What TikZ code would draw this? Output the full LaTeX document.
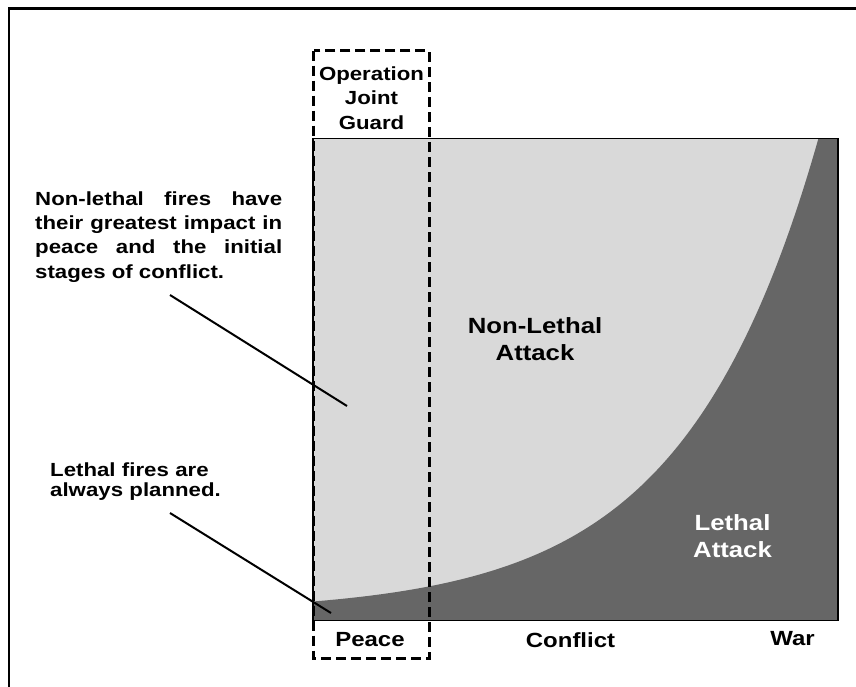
\documentclass[tikz,border=0pt]{standalone}
\usepackage{fontspec}
\setmainfont{Liberation Sans}[FakeStretch=1.17]
\definecolor{lightg}{HTML}{D9D9D9}
\definecolor{darkg}{HTML}{666666}
\begin{document}
\begin{tikzpicture}[x=1pt,y=-1pt,
  lab/.style={inner sep=0pt, font=\bfseries\fontsize{22}{27.4}\selectfont, text width=150pt, align=center, anchor=base},
  note/.style={inner sep=0pt, anchor=base west},
  axislab/.style={inner sep=0pt, font=\bfseries\fontsize{20.5}{25}\selectfont, anchor=base},
  pointer/.style={line width=2pt},
  guard/.style={line width=3pt, dash pattern=on 10pt off 5pt},
  frameline/.style={line width=2.6pt}]
\useasboundingbox (0,0) rectangle (856,687);
\fill[white] (0,0) rectangle (856,687);
% outer frame (cut by the page at right and bottom)
\draw[frameline] (9,687) -- (9,8.5) -- (856,8.5);
% chart
\coordinate (cTL) at (313,138.3);
\coordinate (cBR) at (838,620.5);
\fill[lightg] (cTL) rectangle (cBR);
\fill[darkg] (313,620.5) -- plot[domain=313:818, samples=160, variable=\t]
  (\t, {612.5 - 11*exp(0.00745*(\t-313))})
  -- (818,138.3) -- (838,138.3) -- (838,620.5) -- cycle;
\draw[line width=1.2pt] (cTL) rectangle (cBR);
% Operation Joint Guard box
\coordinate (gTL) at (313.8,50.7);
\coordinate (gBR) at (429.5,658.3);
\draw[guard] (gTL) rectangle (gBR);
% texts
\node[note, text width=247pt, align=justify, font=\bfseries\fontsize{19}{24.4}\selectfont] (nlnote) at (35,205)
  {\hyphenpenalty=10000 \exhyphenpenalty=10000 \tolerance=10000 Non-lethal fires have\linebreak their greatest impact in\linebreak peace and the initial\linebreak stages of conflict.};
\node[note, text width=210pt, align=left, font=\bfseries\fontsize{19}{20.5}\selectfont] (lnote) at (50,476)
  {Lethal fires are\\ always planned.};
\node[lab, font=\bfseries\fontsize{19}{24.3}\selectfont, text width=116pt] (ojg) at (371.5,80.7) {Operation\\ Joint\\ Guard};
\node[lab] (nla) at (535,333.3) {Non-Lethal\\ Attack};
\node[lab, text=white] (la) at (732.5,530.3) {Lethal\\ Attack};
\node[axislab] (peace) at (370,646) {Peace};
\node[axislab] (conflict) at (570.5,647.3) {Conflict};
\node[axislab] (war) at (792.5,645.3) {War};
% pointers
\coordinate (p1s) at (170,295);
\coordinate (p1e) at (347,406);
\coordinate (p2s) at (170,513);
\coordinate (p2e) at (331,613);
\draw[pointer] (p1s) -- (p1e);
\draw[pointer] (p2s) -- (p2e);
\end{tikzpicture}
\end{document}
